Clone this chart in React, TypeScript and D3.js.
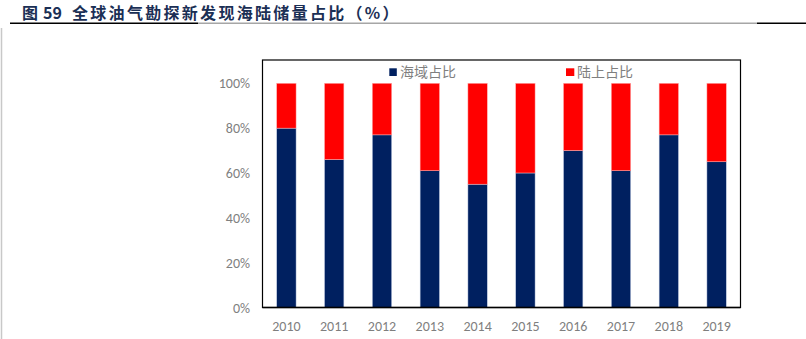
import React from "react";
import * as d3 from "d3";

const years = ["2010","2011","2012","2013","2014","2015","2016","2017","2018","2019"];
const offshore = [80, 66, 77, 61, 55, 60, 70, 61, 77, 65];
const onshore = offshore.map((v) => 100 - v);
const yTicks = [0, 20, 40, 60, 80, 100];
const seriesNames = ["海域占比", "陆上占比"];
const colors = ["#002060", "#FF0000"];

export default function App() {
  const W = 806, H = 339;
  const left = 262.5, right = 740.5, frameTop = 60, bottom = 307.5, valTop = 83.3;
  const x = d3.scaleBand<string>().domain(years).range([left, right]).paddingInner(0.595).paddingOuter(0.2975);
  const y = d3.scaleLinear().domain([0, 100]).range([bottom, valTop]);
  const font = "Calibri, Carlito, 'Liberation Sans', 'Noto Sans CJK SC', sans-serif";
  const cjk = "'Noto Sans CJK SC', sans-serif";
  return (
    <svg width={W} height={H} style={{ position: "absolute", left: 0, top: 0 }} fontFamily={font}>
      <rect width={W} height={H} fill="#fff" />
      <line x1={1.5} x2={1.5} y1={28} y2={H} stroke="#c8c8c8" strokeWidth={1.5} />
      <g fontWeight="bold" fill="#1b2f55" fontSize={16} fontFamily={cjk}>
        <text x={22} y={19}>图</text>
        <text x={43} y={19}>59</text>
        <text x={72} y={19} letterSpacing={2.3}>全球油气勘探新发现海陆储量占比（%）</text>
      </g>
      <line x1={10} x2={198} y1={23.3} y2={23.3} stroke="#000" strokeWidth={1.5} />
      <line x1={198} x2={757} y1={23.3} y2={23.3} stroke="#a6a6a6" strokeWidth={1.5} />
      <line x1={757} x2={806} y1={23.3} y2={23.3} stroke="#000" strokeWidth={1.5} />

      {years.map((yr, i) => (
        <g key={yr}>
          <rect x={x(yr)} y={y(offshore[i])} width={x.bandwidth()} height={y(0) - y(offshore[i])} fill={colors[0]} stroke="#c5d0e6" strokeWidth={0.5} />
          <rect x={x(yr)} y={y(100)} width={x.bandwidth()} height={y(offshore[i]) - y(100)} fill={colors[1]} stroke="#ffb0b0" strokeWidth={0.5} />
          <text x={x(yr)! + x.bandwidth() / 2} y={331} textAnchor="middle" fontSize={14} fill="#7f7f7f">{yr}</text>
        </g>
      ))}
      <rect x={left} y={frameTop} width={right - left} height={bottom - frameTop} fill="none" stroke="#000" strokeWidth={1.2} />
      <line x1={left} x2={right} y1={bottom} y2={bottom} stroke="#000" strokeWidth={1.6} />
      {yTicks.map((t) => (
        <text key={t} x={250} y={y(t) + 5} textAnchor="end" fontSize={14} fill="#7f7f7f">{t}%</text>
      ))}
      <rect x={389.3} y={68.3} width={7.5} height={7.7} fill={colors[0]} />
      <text x={400} y={77} fontSize={14} fill="#7f7f7f" fontFamily={cjk}>{seriesNames[0]}</text>
      <rect x={566} y={68.3} width={8.3} height={7.7} fill={colors[1]} />
      <text x={577} y={77} fontSize={14} fill="#7f7f7f" fontFamily={cjk}>{seriesNames[1]}</text>
    </svg>
  );
}
